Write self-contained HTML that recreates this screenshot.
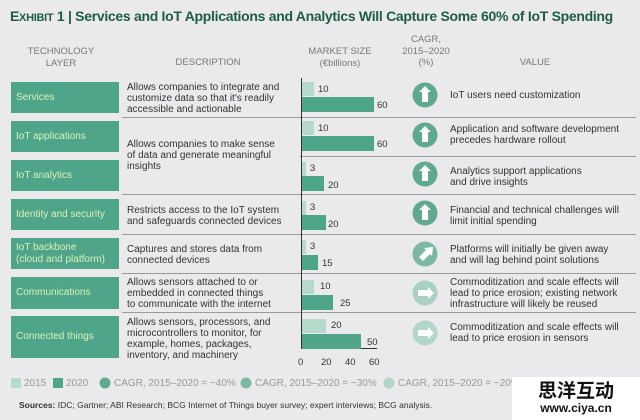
<!DOCTYPE html>
<html><head><meta charset="utf-8"><style>
body{margin:0;width:640px;height:420px;background:#eaeaec;position:relative;overflow:hidden;font-family:"Liberation Sans","Noto Sans CJK SC",sans-serif;}
div{position:absolute;}
.t{font-size:10px;line-height:11px;color:#333;white-space:nowrap;}
.h{font-size:9.5px;line-height:11.5px;color:#777;text-align:center;white-space:nowrap;}
.box{left:11px;width:108px;background:#4ea589;color:#d9f2b8;font-size:10px;line-height:12px;padding-left:5px;box-sizing:border-box;display:flex;align-items:center;}
.sep{left:122px;width:514px;height:1px;background:#9a9a9a;}
.b15{left:302px;background:#b5dacb;height:14px;}
.b20{left:302px;background:#4ea589;height:15px;}
.n{font-size:9.5px;color:#333;}
</style></head><body>
<div style="left:10px;top:8px;font-size:14px;font-weight:bold;color:#1e5c47;white-space:nowrap;letter-spacing:-0.3px">E<span style="font-size:11px">XHIBIT</span> 1 | Services and IoT Applications and Analytics Will Capture Some 60% of IoT Spending</div>
<div class="h" style="left:20px;top:46px;width:82px">TECHNOLOGY<br>LAYER</div>
<div class="h" style="left:160px;top:57px;width:96px">DESCRIPTION</div>
<div class="h" style="left:300px;top:46px;width:80px">MARKET SIZE<br>(€billions)</div>
<div class="h" style="left:395px;top:34px;width:62px">CAGR,<br>2015–2020<br>(%)</div>
<div class="h" style="left:500px;top:57px;width:70px">VALUE</div>

<div class="box" style="top:82px;height:31px">Services</div>
<div class="box" style="top:121px;height:31px">IoT applications</div>
<div class="box" style="top:160px;height:31px">IoT analytics</div>
<div class="box" style="top:199px;height:31px">Identity and security</div>
<div class="box" style="top:238px;height:31px">IoT backbone<br>(cloud and platform)</div>
<div class="box" style="top:277px;height:32px">Communications</div>
<div class="box" style="top:316px;height:42px">Connected things</div>

<div class="sep" style="top:117px"></div>
<div class="sep" style="top:156px;left:300px;width:336px"></div>
<div class="sep" style="top:194px"></div>
<div class="sep" style="top:234px"></div>
<div class="sep" style="top:273px"></div>
<div class="sep" style="top:312px"></div>

<div class="t" style="left:127px;top:82px">Allows companies to integrate and<br>customize data so that it's readily<br>accessible and actionable</div>
<div class="t" style="left:127px;top:139px">Allows companies to make sense<br>of data and generate meaningful<br>insights</div>
<div class="t" style="left:127px;top:205px">Restricts access to the IoT system<br>and safeguards connected devices</div>
<div class="t" style="left:127px;top:244px">Captures and stores data from<br>connected devices</div>
<div class="t" style="left:127px;top:277px">Allows sensors attached to or<br>embedded in connected things<br>to communicate with the internet</div>
<div class="t" style="left:127px;top:317px">Allows sensors, processors, and<br>microcontrollers to monitor, for<br>example, homes, packages,<br>inventory, and machinery</div>

<div style="left:301px;top:78px;width:1px;height:271px;background:#333"></div>
<div style="left:301px;top:348px;width:76px;height:1px;background:#333"></div>
<div class="n" style="left:298px;top:357px">0</div><div class="n" style="left:321px;top:357px">20</div><div class="n" style="left:345px;top:357px">40</div><div class="n" style="left:369px;top:357px">60</div>

<div class="b15" style="top:82px;width:12px"></div><div class="n" style="left:318px;top:84px">10</div>
<div class="b20" style="top:97px;width:72px"></div><div class="n" style="left:377px;top:100px">60</div>
<div class="b15" style="top:121px;width:12px"></div><div class="n" style="left:318px;top:123px">10</div>
<div class="b20" style="top:136px;width:72px"></div><div class="n" style="left:377px;top:139px">60</div>
<div class="b15" style="top:162px;width:4px"></div><div class="n" style="left:310px;top:163px">3</div>
<div class="b20" style="top:176px;width:22px"></div><div class="n" style="left:328px;top:180px">20</div>
<div class="b15" style="top:201px;width:4px"></div><div class="n" style="left:310px;top:202px">3</div>
<div class="b20" style="top:215px;width:24px"></div><div class="n" style="left:328px;top:219px">20</div>
<div class="b15" style="top:240px;width:4px"></div><div class="n" style="left:310px;top:241px">3</div>
<div class="b20" style="top:255px;width:16px"></div><div class="n" style="left:322px;top:258px">15</div>
<div class="b15" style="top:280px;width:12px"></div><div class="n" style="left:320px;top:281px">10</div>
<div class="b20" style="top:295px;width:31px"></div><div class="n" style="left:340px;top:298px">25</div>
<div class="b15" style="top:319px;width:24px"></div><div class="n" style="left:331px;top:320px">20</div>
<div class="b20" style="top:334px;width:59px"></div><div class="n" style="left:367px;top:337px">50</div>

<svg style="position:absolute;left:0;top:0" width="640" height="420">
<g fill="#fff">
<circle cx="425" cy="95" r="12.5" fill="#5fa98f"/><path d="M425 86l6 6h-3v10h-6v-10h-3z"/>
<circle cx="425" cy="135" r="12.5" fill="#5fa98f"/><path d="M425 126l6 6h-3v10h-6v-10h-3z"/>
<circle cx="425" cy="174" r="12.5" fill="#5fa98f"/><path d="M425 165l6 6h-3v10h-6v-10h-3z"/>
<circle cx="425" cy="213" r="12.5" fill="#5fa98f"/><path d="M425 204l6 6h-3v10h-6v-10h-3z"/>
<circle cx="425" cy="254" r="12.5" fill="#7db8a3"/><path d="M433 247l-1 9-2-2-7 7-4-4 7-7-2-2z"/>
<circle cx="425" cy="293" r="12.5" fill="#a9d0c1"/><path d="M434 293l-6 6v-3h-10v-6h10v-3z"/>
<circle cx="425" cy="333" r="12.5" fill="#b3d6c8"/><path d="M434 333l-6 6v-3h-10v-6h10v-3z"/>
</g>
<rect x="11" y="378" width="10" height="10" fill="#b5dacb"/>
<rect x="53" y="378" width="10" height="10" fill="#4ea589"/>
<circle cx="105" cy="383" r="5.5" fill="#5fa98f"/>
<circle cx="246" cy="383" r="5.5" fill="#7db8a3"/>
<circle cx="389" cy="383" r="5.5" fill="#b3d6c8"/>
</svg>

<div class="t" style="left:450px;top:90px">IoT users need customization</div>
<div class="t" style="left:450px;top:124px">Application and software development<br>precedes hardware rollout</div>
<div class="t" style="left:450px;top:166px">Analytics support applications<br>and drive insights</div>
<div class="t" style="left:450px;top:205px">Financial and technical challenges will<br>limit initial spending</div>
<div class="t" style="left:450px;top:244px">Platforms will initially be given away<br>and will lag behind point solutions</div>
<div class="t" style="left:450px;top:277px">Commoditization and scale effects will<br>lead to price erosion; existing network<br>infrastructure will likely be reused</div>
<div class="t" style="left:450px;top:322px">Commoditization and scale effects will<br>lead to price erosion in sensors</div>

<div class="t" style="left:24px;top:378px;color:#999">2015</div>
<div class="t" style="left:66px;top:378px;color:#999">2020</div>
<div class="t" style="left:114px;top:378px;color:#999">CAGR, 2015–2020 = ~40%</div>
<div class="t" style="left:255px;top:378px;color:#999">CAGR, 2015–2020 = ~30%</div>
<div class="t" style="left:398px;top:378px;color:#999">CAGR, 2015–2020 = ~20%</div>

<div class="t" style="left:19px;top:400px;font-size:8.5px;color:#333"><b>Sources:</b> IDC; Gartner; ABI Research; BCG Internet of Things buyer survey; expert interviews; BCG analysis.</div>

<div style="left:512px;top:377px;width:128px;height:43px;background:#fff"></div>
<div style="left:512px;top:379px;width:128px;text-align:center;font-size:19px;font-weight:bold;color:#111;line-height:22px;font-family:'Noto Sans CJK SC',sans-serif">思洋互动</div>
<div style="left:512px;top:401px;width:128px;text-align:center;font-size:12px;font-weight:bold;color:#111;line-height:14px">www.ciya.cn</div>
</body></html>
